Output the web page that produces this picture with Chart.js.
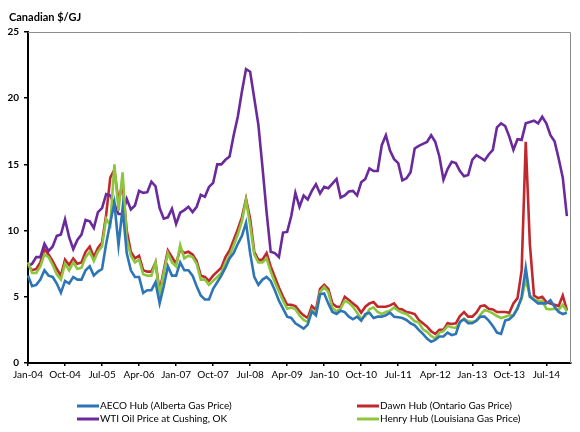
<!DOCTYPE html>
<html>
<head>
<meta charset="utf-8">
<script src="https://cdn.jsdelivr.net/npm/chart.js@4.4.1/dist/chart.umd.min.js"></script>
<style>
html, body { margin: 0; padding: 0; background: #fff; }
#wrap { width: 580px; height: 432px; position: relative; }
</style>
</head>
<body>
<div id="wrap"><canvas id="prices" width="580" height="432"></canvas></div>
<script>
// monthly, Jan-04 .. Dec-14 (axis runs one more month, to Jan-15)
const monthNames = ['Jan','Feb','Mar','Apr','May','Jun','Jul','Aug','Sep','Oct','Nov','Dec'];
const years = ['04','05','06','07','08','09','10','11','12','13','14','15'];
const months = [];
years.forEach(y => monthNames.forEach(m => months.push(m + '-' + y)));
const categories = months.slice(0, 133);

const yTicks = [0, 5, 10, 15, 20, 25];

const aecoHub = [
    6.6, 5.8, 5.9, 6.3, 7.0, 6.6, 6.5, 6.0, 5.3, 6.2, 6.0, 6.5,
    6.3, 6.3, 7.0, 7.3, 6.6, 6.9, 7.1, 9.0, 10.6, 12.1, 8.9, 11.7,
    8.3, 7.0, 6.5, 6.5, 5.3, 5.5, 5.5, 6.1, 4.5, 5.8, 7.3, 6.6,
    6.6, 7.6, 7.0, 7.0, 6.6, 5.8, 5.1, 4.8, 4.8, 5.6, 6.1, 6.6,
    7.2, 7.9, 8.3, 9.0, 9.6, 10.6, 8.3, 6.5, 5.9, 6.3, 6.5, 6.2,
    5.5, 4.7, 4.1, 3.5, 3.4, 3.0, 2.8, 2.6, 2.9, 3.9, 3.6, 5.2,
    5.25, 4.5, 3.85, 3.7, 3.95, 3.85, 3.5, 3.3, 3.5, 3.2, 3.7, 3.8,
    3.4, 3.5, 3.5, 3.6, 3.8, 3.5, 3.45, 3.4, 3.25, 3.0, 2.85, 2.5,
    2.2, 1.85, 1.6, 1.75, 2.0, 2.0, 2.3, 2.1, 2.2, 3.1, 3.3, 3.0,
    3.0, 3.2, 3.5, 3.5, 3.2, 2.8, 2.3, 2.2, 3.2, 3.3, 3.6, 4.1,
    5.0, 7.2, 5.0, 4.75, 4.5, 4.5, 4.5, 4.75, 4.25, 3.85, 3.7, 3.8
];
const dawnHub = [
    7.4, 7.0, 7.1, 7.6, 8.6, 8.2, 7.7, 7.1, 6.6, 7.8, 7.4, 7.9,
    7.5, 7.6, 8.4, 8.8, 8.0, 8.7, 9.1, 11.2, 14.0, 14.6, 12.2, 13.6,
    10.0, 8.4, 7.9, 8.1, 7.0, 6.9, 6.9, 7.6, 5.4, 7.0, 8.5, 8.0,
    7.5, 8.6, 8.3, 8.4, 8.2, 7.7, 6.6, 6.5, 6.2, 6.6, 6.9, 7.2,
    8.0, 8.5, 9.3, 10.1, 11.0, 12.4, 10.9, 8.4, 7.8, 7.8, 8.3, 7.3,
    6.5, 5.7, 5.0, 4.4, 4.4, 4.3, 3.9, 3.6, 3.4, 4.3, 4.0, 5.6,
    5.9, 5.6, 4.5, 4.25, 4.25, 5.0, 4.75, 4.5, 4.25, 3.8, 4.25, 4.5,
    4.6, 4.25, 4.25, 4.25, 4.35, 4.5, 4.1, 4.05, 3.85, 3.8, 3.7, 3.25,
    3.0, 2.75, 2.4, 2.2, 2.5, 2.5, 3.0, 2.95, 3.0, 3.55, 3.85, 3.5,
    3.5, 3.8, 4.3, 4.35, 4.1, 4.05, 3.85, 3.85, 3.85, 3.8, 4.5, 4.9,
    7.0, 16.7, 9.0, 5.1, 4.9, 5.0, 4.6, 4.5, 4.4, 4.3, 5.1, 4.0
];
const wtiOil = [
    7.3, 7.5, 8.0, 8.0, 9.0, 8.45, 8.8, 9.6, 9.7, 10.85, 9.5, 8.6,
    9.3, 9.7, 10.8, 10.7, 10.2, 11.4, 11.7, 12.75, 12.65, 12.0, 11.25, 11.25,
    12.4, 11.6, 11.9, 13.0, 12.85, 12.9, 13.7, 13.35, 11.7, 10.9, 11.0, 11.65,
    10.5, 11.35, 11.55, 11.8, 11.4, 11.8, 12.7, 12.55, 13.3, 13.6, 15.0, 15.0,
    15.35, 15.6, 17.2, 18.6, 20.5, 22.2, 22.0, 20.0, 18.0, 14.8, 11.4, 8.4,
    8.3, 8.0, 9.85, 9.9, 11.1, 12.85, 11.8, 12.65, 12.35, 13.0, 13.5, 12.8,
    13.3, 13.2, 13.55, 13.9, 12.5, 12.65, 12.95, 13.0, 12.65, 13.65, 13.9, 14.7,
    14.5, 14.5, 16.45, 17.2, 16.05, 15.4, 15.1, 13.8, 13.95, 14.4, 16.2, 16.4,
    16.55, 16.7, 17.2, 16.7, 15.6, 13.85, 14.65, 15.2, 15.1, 14.5, 14.1, 14.2,
    15.35, 15.7, 15.5, 15.3, 15.75, 16.1, 17.8, 18.1, 17.9, 17.1, 16.1, 16.9,
    16.85, 18.1, 18.2, 18.3, 18.1, 18.6, 18.1, 17.2, 16.75, 15.45, 14.0, 11.1
];
const henryHub = [
    7.6, 6.8, 6.8, 7.3, 8.2, 8.0, 7.4, 6.7, 6.3, 7.5, 7.0, 7.6,
    7.1, 7.2, 8.0, 8.4, 7.7, 8.4, 8.8, 10.9, 10.4, 15.0, 11.5, 14.4,
    9.4, 8.1, 7.6, 7.8, 6.7, 6.6, 6.6, 7.6, 5.1, 6.8, 8.3, 7.6,
    7.3, 8.9, 7.9, 8.1, 8.0, 7.5, 6.3, 6.3, 5.9, 6.2, 6.5, 6.8,
    7.6, 8.1, 8.9, 9.7, 10.7, 12.3, 10.4, 8.2, 7.6, 7.6, 7.9, 6.9,
    6.1, 5.4, 4.7, 4.1, 4.2, 4.05, 3.6, 3.25, 3.1, 4.0, 3.7, 5.35,
    5.75, 5.35, 4.15, 3.9, 4.1, 4.7, 4.55, 4.25, 3.8, 3.35, 3.55, 4.05,
    4.2, 3.85, 3.7, 3.85, 3.95, 4.2, 3.95, 3.8, 3.7, 3.45, 3.15, 3.05,
    2.55, 2.35, 2.05, 1.85, 2.3, 2.4, 2.8, 2.7, 2.65, 3.1, 3.35, 3.15,
    3.1, 3.2, 3.65, 4.0, 3.9, 3.75, 3.55, 3.4, 3.5, 3.6, 3.6, 4.2,
    4.85, 6.3, 5.1, 4.8, 4.7, 4.7, 4.1, 4.05, 4.1, 4.0, 4.4, 3.9
];

const font = "Lato, 'Liberation Sans', sans-serif";

// slots for the two-column legend under the axis
const legendSlots = [
    { x: 77, y: 406 }, { x: 357, y: 406 },
    { x: 77, y: 419 }, { x: 357, y: 419 }
];

const frameAndLegend = {
    id: 'frameAndLegend',
    afterDraw(chart) {
        const c = chart.ctx;
        const a = chart.chartArea;
        c.save();
        // thin grey frame on top and right
        c.strokeStyle = '#8c8c8c';
        c.lineWidth = 1;
        c.beginPath();
        c.moveTo(a.left, a.top + 0.5);
        c.lineTo(a.right - 0.5, a.top + 0.5);
        c.lineTo(a.right - 0.5, a.bottom);
        c.stroke();

        // axis title
        c.fillStyle = '#000';
        c.font = "bold 11px " + font;
        c.textBaseline = 'middle';
        c.textAlign = 'left';
        c.fillText('Canadian $/GJ', 9, 17);

        // legend
        c.font = "10px " + font;
        chart.data.datasets.forEach((ds, i) => {
            const s = legendSlots[i];
            c.strokeStyle = ds.borderColor;
            c.lineWidth = 3;
            c.beginPath();
            c.moveTo(s.x, s.y);
            c.lineTo(s.x + 22, s.y);
            c.stroke();
            c.fillText(ds.label, s.x + 23, s.y);
        });
        c.restore();
    }
};

const config = {
    type: 'line',
    data: {
        labels: categories,
        datasets: [
            { label: 'AECO Hub (Alberta Gas Price)', data: aecoHub, borderColor: '#2e75b6', order: 0 },
            { label: 'Dawn Hub (Ontario Gas Price)', data: dawnHub, borderColor: '#c0282e', order: 3 },
            { label: 'WTI Oil Price at Cushing, OK', data: wtiOil, borderColor: '#6a2a9c', order: 2 },
            { label: 'Henry Hub (Louisiana Gas Price)', data: henryHub, borderColor: '#8cc63f', order: 1 }
        ]
    },
    options: {
        responsive: false,
        animation: false,
        datasets: {
            line: { borderWidth: 2.6, pointRadius: 0, tension: 0, fill: false }
        },
        layout: { padding: { left: 0, right: 9, top: 32, bottom: 0 } },
        plugins: {
            legend: { display: false },
            tooltip: { enabled: false }
        },
        scales: {
            x: {
                offset: false,
                border: { color: '#000', width: 2 },
                grid: { drawOnChartArea: false, tickLength: 3, color: '#000', lineWidth: 1.5 },
                ticks: {
                    autoSkip: false,
                    maxRotation: 0,
                    padding: 3,
                    color: '#000',
                    font: { family: font, size: 10 },
                    callback: function (v, i) {
                        return i % 9 === 0 ? this.getLabelForValue(v) : null;
                    }
                },
                afterFit: s => { s.height = 69; }
            },
            y: {
                min: 0,
                max: 25,
                border: { color: '#000', width: 2 },
                grid: { drawOnChartArea: false, tickLength: 4, color: '#000', lineWidth: 1.5 },
                afterBuildTicks: s => { s.ticks = yTicks.map(v => ({ value: v })); },
                ticks: {
                    padding: 5,
                    color: '#000',
                    font: { family: font, size: 10, weight: 'bold' }
                },
                afterFit: s => { s.width = 28; }
            }
        }
    },
    plugins: [frameAndLegend]
};

new Chart(document.getElementById('prices').getContext('2d'), config);
</script>
</body>
</html>
